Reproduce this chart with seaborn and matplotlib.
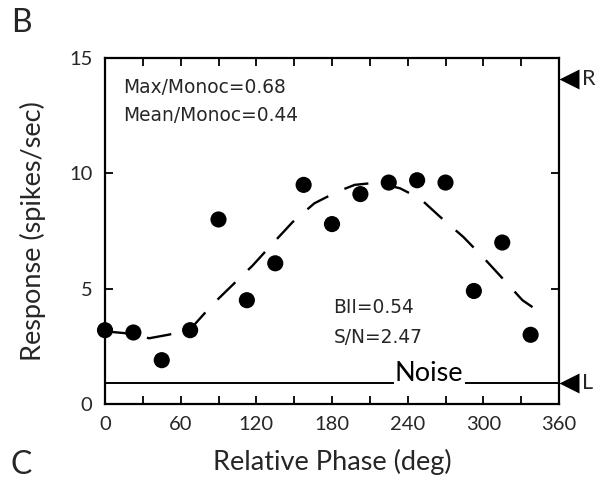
import matplotlib
matplotlib.use("Agg")
import matplotlib.pyplot as plt
import matplotlib.transforms as mtransforms
import seaborn as sns
import pandas as pd

# Measured responses at each relative phase
phase_deg = [0, 22.5, 45, 67.5, 90, 112.5, 135, 157.5, 180, 202.5, 225, 247.5,
             270, 292.5, 315, 337.5]
response = [3.2, 3.1, 1.9, 3.2, 8.0, 4.5, 6.1, 9.5, 7.8, 9.1, 9.6, 9.7,
            9.6, 4.9, 7.0, 3.0]

# Fitted tuning curve
fit_phase = [0, 20, 35, 50, 67, 85, 100, 117, 132, 149, 166, 184, 198, 216,
             234, 250, 266, 284, 300, 316, 331, 339]
fit_response = [3.15, 3.05, 2.85, 3.0, 3.2, 4.3, 5.1, 6.0, 6.9, 7.9, 8.7, 9.2,
                9.5, 9.6, 9.35, 8.9, 8.1, 7.25, 6.35, 5.4, 4.5, 4.2]

noise_level = 0.9
monoc_right = 14.1
monoc_left = 0.9

x_ticks = [0, 60, 120, 180, 240, 300, 360]
y_ticks = [0, 5, 10, 15]

sns.set_theme(style="ticks")
plt.rcParams["font.family"] = ["Lato", "DejaVu Sans"]

fig = plt.figure(figsize=(6.01, 4.79), dpi=100)
ax = fig.add_axes([105 / 601, 1 - 404 / 479, 454 / 601, 346 / 479])

df = pd.DataFrame({"phase": phase_deg, "resp": response})
fit = pd.DataFrame({"phase": fit_phase, "resp": fit_response})

sns.lineplot(data=fit, x="phase", y="resp", ax=ax, color="black", lw=1.7,
             dashes=False, sort=True)
ax.lines[-1].set_dashes([10.5, 7.5])
sns.scatterplot(data=df, x="phase", y="resp", ax=ax, color="black", s=135,
                edgecolor="none", clip_on=False, zorder=5)

# Noise floor
ax.axhline(noise_level, color="black", lw=1.4, zorder=2)
ax.text(257, noise_level + 0.1, "Noise", ha="center", va="baseline",
        fontsize=19.5, color="black",
        bbox=dict(facecolor="white", edgecolor="none", pad=1.0), zorder=3)

ax.set_xlim(0, 360)
ax.set_ylim(0, 15)
ax.set_xticks(x_ticks)
ax.set_xticks(range(0, 361, 30), minor=True)
ax.set_yticks(y_ticks)
ax.tick_params(axis="both", which="both", direction="in", top=True, right=True,
               length=6, width=1.3, color="black")
ax.tick_params(axis="both", which="major", labelsize=14.5, pad=9)
ax.tick_params(axis="x", which="minor", length=6)
for sp in ax.spines.values():
    sp.set_linewidth(1.6)
    sp.set_color("black")

ax.set_xlabel("Relative Phase (deg)", fontsize=19.5, labelpad=11)
ax.set_ylabel("Response (spikes/sec)", fontsize=19.5, labelpad=17)

ax.text(0.04, 0.915, "Max/Monoc=0.68", transform=ax.transAxes, fontsize=13.4,
        family=["DejaVu Sans"], va="center")
ax.text(0.04, 0.835, "Mean/Monoc=0.44", transform=ax.transAxes, fontsize=13.4,
        family=["DejaVu Sans"], va="center")
ax.text(181, 4.2, "BII=0.54", fontsize=13.4, family=["DejaVu Sans"], va="center")
ax.text(181, 2.9, "S/N=2.47", fontsize=13.4, family=["DejaVu Sans"], va="center")

# Monocular response markers on the right edge
shift = mtransforms.ScaledTranslation(9.5 / 100, 0, fig.dpi_scale_trans)
for val, lab in [(monoc_right, "R"), (monoc_left, "L")]:
    ax.plot([360], [val], marker="<", ms=14, color="black", mec="none",
            clip_on=False, transform=ax.transData + shift)
    ax.annotate(lab, xy=(360, val), xytext=(23, 0), textcoords="offset pixels",
                ha="left", va="center", fontsize=15.5, annotation_clip=False)

fig.text(11 / 601, 1 - 23 / 479, "B", fontsize=23, va="center", ha="left")
fig.text(11 / 601, 1 - 465 / 479, "C", fontsize=23, va="center", ha="left")

fig.savefig("out.png", dpi=100, facecolor="white")
